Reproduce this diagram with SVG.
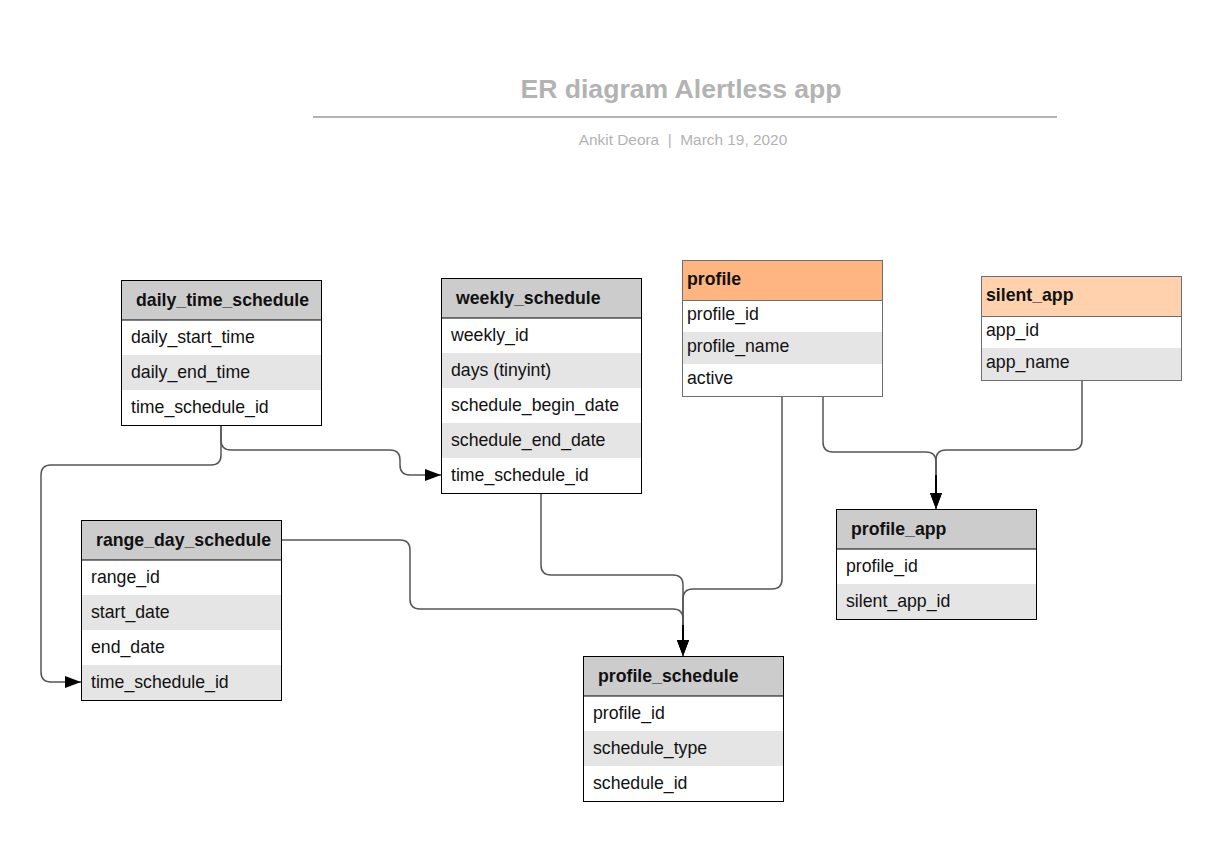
<svg xmlns="http://www.w3.org/2000/svg" width="1228" height="865" viewBox="0 0 1228 865">
<style>
.t{font-family:"Liberation Sans",Arial,sans-serif;font-size:17.7px;fill:#111}
.h{font-family:"Liberation Sans",Arial,sans-serif;font-size:17.7px;font-weight:bold;fill:#111}
.hd{fill:#cccccc}
.w{fill:#ffffff}
.g{fill:#e5e5e5}
.bd{fill:none;stroke:#000;stroke-width:1}
.bo{fill:none;stroke:#6e6e6e;stroke-width:1}
.c{fill:none;stroke:#555;stroke-width:1.5}
</style>
<defs>
<marker id="ar" viewBox="0 0 16 12" refX="16" refY="6" markerWidth="16" markerHeight="12" markerUnits="userSpaceOnUse" orient="auto">
<path d="M0 0 L16 6 L0 12 Z" fill="#000"/>
</marker>
</defs>
<rect width="1228" height="865" fill="#fff"/>
<g id="title">
<text x="681" y="98" text-anchor="middle" font-family="Liberation Sans, Arial, sans-serif" font-size="26.6" font-weight="bold" fill="#b3b3b3">ER diagram Alertless app</text>
<line x1="313" y1="117" x2="1057" y2="117" stroke="#b3b3b3" stroke-width="2"/>
<text x="683" y="145" text-anchor="middle" font-family="Liberation Sans, Arial, sans-serif" font-size="15.4" fill="#b3b3b3" xml:space="preserve">Ankit Deora  |  March 19, 2020</text>
</g>
<g id="connectors">
<path class="c" d="M221 425 V455 Q221 465 211 465 H51 Q41 465 41 475 V672 Q41 682 51 682 H81" marker-end="url(#ar)"/>
<path class="c" d="M221 425 V440 Q221 450 231 450 H390 Q400 450 400 460 V465 Q400 475 410 475 H441" marker-end="url(#ar)"/>
<path class="c" d="M541 493 V565 Q541 575 551 575 H673 Q683 575 683 585 V656" marker-end="url(#ar)"/>
<path class="c" d="M782 396 V579 Q782 589 772 589 H693 Q683 589 683 599 V656" marker-end="url(#ar)"/>
<path class="c" d="M281 540 H400 Q410 540 410 550 V599 Q410 609 420 609 H673 Q683 609 683 619 V656" marker-end="url(#ar)"/>
<path class="c" d="M823 396 V442 Q823 452 833 452 H926 Q936 452 936 462 V509" marker-end="url(#ar)"/>
<path class="c" d="M1082 380 V440 Q1082 450 1072 450 H946 Q936 450 936 460 V509" marker-end="url(#ar)"/>
<line x1="683" y1="625" x2="683" y2="642" stroke="#000" stroke-width="2"/>
<line x1="936" y1="475" x2="936" y2="495" stroke="#000" stroke-width="2"/>
</g>
<g id="daily_time_schedule">
<rect class="hd" x="121" y="280" width="200" height="40"/>
<rect class="w" x="121" y="320" width="200" height="35"/>
<rect class="g" x="121" y="355" width="200" height="35"/>
<rect class="w" x="121" y="390" width="200" height="35"/>
<line x1="121" y1="320" x2="321" y2="320" stroke="#000"/>
<rect class="bd" x="121.5" y="280.5" width="200" height="145"/>
<text class="h" x="136" y="306">daily_time_schedule</text>
<text class="t" x="131" y="343">daily_start_time</text>
<text class="t" x="131" y="378">daily_end_time</text>
<text class="t" x="131" y="413">time_schedule_id</text>
</g>
<g id="weekly_schedule">
<rect class="hd" x="441" y="278" width="200" height="40"/>
<rect class="w" x="441" y="318" width="200" height="35"/>
<rect class="g" x="441" y="353" width="200" height="35"/>
<rect class="w" x="441" y="388" width="200" height="35"/>
<rect class="g" x="441" y="423" width="200" height="35"/>
<rect class="w" x="441" y="458" width="200" height="35"/>
<line x1="441" y1="318" x2="641" y2="318" stroke="#000"/>
<rect class="bd" x="441.5" y="278.5" width="200" height="215"/>
<text class="h" x="456" y="304">weekly_schedule</text>
<text class="t" x="451" y="341">weekly_id</text>
<text class="t" x="451" y="376">days (tinyint)</text>
<text class="t" x="451" y="411">schedule_begin_date</text>
<text class="t" x="451" y="446">schedule_end_date</text>
<text class="t" x="451" y="481">time_schedule_id</text>
</g>
<g id="profile">
<rect x="682" y="260" width="200" height="40" fill="#ffb580"/>
<rect class="w" x="682" y="300" width="200" height="32"/>
<rect class="g" x="682" y="332" width="200" height="32"/>
<rect class="w" x="682" y="364" width="200" height="32"/>
<line x1="682" y1="300.5" x2="882" y2="300.5" stroke="#6e6e6e"/>
<rect class="bo" x="682.5" y="260.5" width="200" height="136"/>
<text class="h" x="687" y="285">profile</text>
<text class="t" x="687" y="320">profile_id</text>
<text class="t" x="687" y="352">profile_name</text>
<text class="t" x="687" y="384">active</text>
</g>
<g id="silent_app">
<rect x="981" y="276" width="200" height="40" fill="#ffd2ad"/>
<rect class="w" x="981" y="316" width="200" height="32"/>
<rect class="g" x="981" y="348" width="200" height="32"/>
<line x1="981" y1="316.5" x2="1181" y2="316.5" stroke="#6e6e6e"/>
<rect class="bo" x="981.5" y="276.5" width="200" height="104"/>
<text class="h" x="986" y="301">silent_app</text>
<text class="t" x="986" y="336">app_id</text>
<text class="t" x="986" y="368">app_name</text>
</g>
<g id="range_day_schedule">
<rect class="hd" x="81" y="520" width="200" height="40"/>
<rect class="w" x="81" y="560" width="200" height="35"/>
<rect class="g" x="81" y="595" width="200" height="35"/>
<rect class="w" x="81" y="630" width="200" height="35"/>
<rect class="g" x="81" y="665" width="200" height="35"/>
<line x1="81" y1="560" x2="281" y2="560" stroke="#000"/>
<rect class="bd" x="81.5" y="520.5" width="200" height="180"/>
<text class="h" x="96" y="546">range_day_schedule</text>
<text class="t" x="91" y="583">range_id</text>
<text class="t" x="91" y="618">start_date</text>
<text class="t" x="91" y="653">end_date</text>
<text class="t" x="91" y="688">time_schedule_id</text>
</g>
<g id="profile_app">
<rect class="hd" x="836" y="509" width="200" height="40"/>
<rect class="w" x="836" y="549" width="200" height="35"/>
<rect class="g" x="836" y="584" width="200" height="35"/>
<line x1="836" y1="549" x2="1036" y2="549" stroke="#000"/>
<rect class="bd" x="836.5" y="509.5" width="200" height="110"/>
<text class="h" x="851" y="535">profile_app</text>
<text class="t" x="846" y="572">profile_id</text>
<text class="t" x="846" y="607">silent_app_id</text>
</g>
<g id="profile_schedule">
<rect class="hd" x="583" y="656" width="200" height="40"/>
<rect class="w" x="583" y="696" width="200" height="35"/>
<rect class="g" x="583" y="731" width="200" height="35"/>
<rect class="w" x="583" y="766" width="200" height="35"/>
<line x1="583" y1="696" x2="783" y2="696" stroke="#000"/>
<rect class="bd" x="583.5" y="656.5" width="200" height="145"/>
<text class="h" x="598" y="682">profile_schedule</text>
<text class="t" x="593" y="719">profile_id</text>
<text class="t" x="593" y="754">schedule_type</text>
<text class="t" x="593" y="789">schedule_id</text>
</g>
</svg>
